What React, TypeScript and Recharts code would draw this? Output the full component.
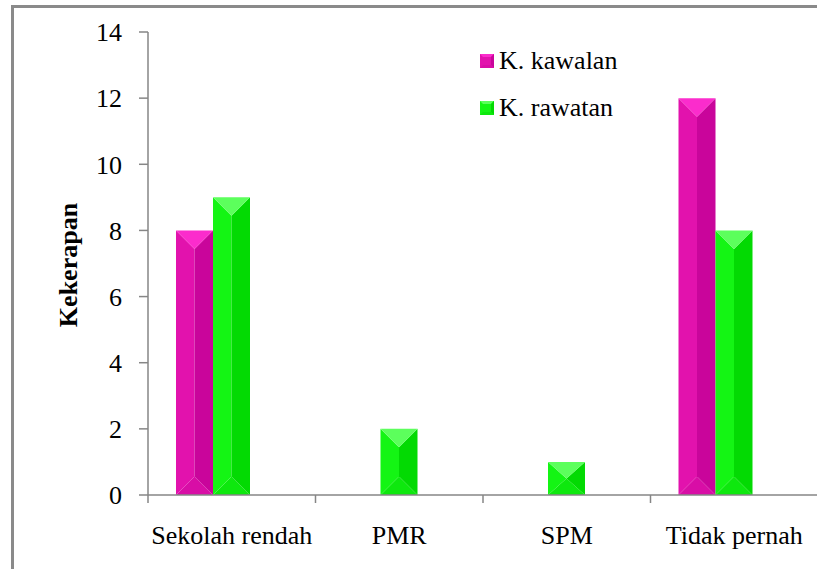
import React from 'react';
import { BarChart, Bar, XAxis, YAxis, Legend } from 'recharts';

const categories = ['Sekolah rendah', 'PMR', 'SPM', 'Tidak pernah'];
const kawalan = [8, 0, 0, 12];
const rawatan = [9, 2, 1, 8];
const yTicks = [0, 2, 4, 6, 8, 10, 12, 14];
const seriesNames = ['K. kawalan', 'K. rawatan'];

const data = categories.map((c, i) => ({
  name: c,
  kawalan: kawalan[i],
  rawatan: rawatan[i],
  kosong: null as number | null,
}));

const FONT = "'Liberation Serif', 'Times New Roman', Times, serif";
const AXIS = '#868686';
const CHART_W = 830;
const CHART_H = 569;
const Y_W = 148;
const M_RIGHT = 12;
const PLOT_W = CHART_W - Y_W - M_RIGHT;
const BAND = PLOT_W / categories.length;

const MAGENTA = { top: '#fb2ccc', left: '#e212ad', right: '#c9059b', bottom: '#d80ea6' };
const GREEN = { top: '#5cff5c', left: '#14f514', right: '#03da03', bottom: '#0ee80e' };

type Pal = typeof MAGENTA;

const bevel = (pal: Pal) => (props: any) => {
  const { x, y, width: w, height: h } = props;
  if (!h || h <= 0 || !w) return <g />;
  const b = Math.min(w / 2, h / 2);
  const cx = x + w / 2;
  return (
    <g>
      <polygon points={`${x},${y + h} ${cx},${y + h - b} ${x + w},${y + h}`} fill={pal.bottom} />
      <polygon points={`${x},${y} ${cx},${y + b} ${cx},${y + h - b} ${x},${y + h}`} fill={pal.left} />
      <polygon points={`${x + w},${y} ${cx},${y + b} ${cx},${y + h - b} ${x + w},${y + h}`} fill={pal.right} />
      <polygon points={`${x},${y} ${x + w},${y} ${cx},${y + b}`} fill={pal.top} />
    </g>
  );
};

const Marker = ({ pal }: { pal: Pal }) => (
  <svg width={14} height={14} style={{ display: 'block' }}>
    <rect x={0} y={0} width={14} height={14} fill={pal.left} />
    <polygon points="0,0 14,0 11,3 3,3" fill={pal.top} />
    <polygon points="14,0 14,14 11,11 11,3" fill={pal.right} />
    <polygon points="0,14 14,14 11,11 3,11" fill={pal.bottom} />
  </svg>
);

const renderLegend = () => (
  <div style={{ fontFamily: FONT, fontSize: 26, color: '#000' }}>
    {seriesNames.map((n, i) => (
      <div key={n} style={{ display: 'flex', alignItems: 'center', height: 47 }}>
        <Marker pal={i === 0 ? MAGENTA : GREEN} />
        <span style={{ marginLeft: 5, whiteSpace: 'nowrap' }}>{n}</span>
      </div>
    ))}
  </div>
);

const XTick = (props: any) => {
  const { x, y, payload } = props;
  const left = x - BAND / 2;
  return (
    <g>
      <line x1={left} x2={left} y1={y} y2={y + 8} stroke={AXIS} strokeWidth={1.5} />
      <text x={x} y={y + 49} textAnchor="middle" fontFamily={FONT} fontSize={26} fill="#000">
        {payload.value}
      </text>
    </g>
  );
};

const renderYLabel = () => (
  <text
    x={77}
    y={265}
    transform="rotate(-90 77 265)"
    textAnchor="middle"
    fontFamily={FONT}
    fontWeight="bold"
    fontSize={26}
    fill="#000"
  >
    Kekerapan
  </text>
);

export default function App() {
  return (
    <div
      style={{
        position: 'absolute',
        left: 0,
        top: 0,
        width: 817,
        height: 569,
        overflow: 'hidden',
        background: '#fff',
        fontFamily: FONT,
      }}
    >
      <div
        style={{
          position: 'absolute',
          left: 11,
          top: 5,
          width: 900,
          height: 700,
          borderTop: '3px solid #8a8a8a',
          borderLeft: '3px solid #8a8a8a',
        }}
      />
      <div style={{ position: 'absolute', left: 0, top: 0 }}>
        <BarChart
          width={CHART_W}
          height={CHART_H}
          data={data}
          margin={{ top: 32, right: M_RIGHT, bottom: 0, left: 0 }}
          barGap={0}
          barSize={37}
        >
          <XAxis
            dataKey="name"
            height={74}
            interval={0}
            tickLine={false}
            tickSize={0}
            tickMargin={0}
            axisLine={{ stroke: AXIS, strokeWidth: 1.5 }}
            tick={<XTick />}
          />
          <YAxis
            width={Y_W}
            domain={[0, 14]}
            ticks={yTicks}
            interval={0}
            tickSize={9}
            tickMargin={17}
            axisLine={{ stroke: AXIS, strokeWidth: 1.5 }}
            tickLine={{ stroke: AXIS, strokeWidth: 1.5 }}
            tick={{ fontFamily: FONT, fontSize: 26, fill: '#000' }}
            label={renderYLabel}
          />
          <Legend
            layout="vertical"
            align="center"
            verticalAlign="middle"
            content={renderLegend}
            wrapperStyle={{ left: 480, top: 37, width: 200, height: 94 }}
          />
          <Bar dataKey="kawalan" name="K. kawalan" shape={bevel(MAGENTA)} isAnimationActive={false} />
          <Bar dataKey="rawatan" name="K. rawatan" shape={bevel(GREEN)} isAnimationActive={false} />
          <Bar dataKey="kosong" legendType="none" fill="none" isAnimationActive={false} />
        </BarChart>
      </div>
    </div>
  );
}
